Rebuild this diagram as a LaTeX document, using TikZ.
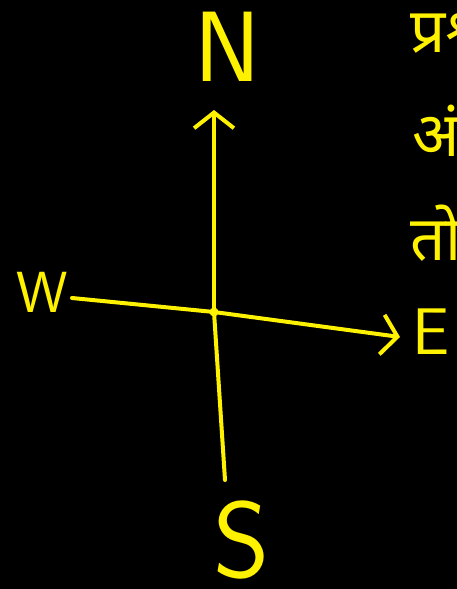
\documentclass[tikz,border=0pt]{standalone}
\usepackage{fontspec}
\newfontfamily\devfont[Script=Devanagari]{Noto Sans}
\usetikzlibrary{arrows.meta,positioning}
\tikzset{
  dir/axis/.style={line width=4pt, yellow, line cap=round, line join=round},
  dir/tip/.style={-{Straight Barb[length=5.5mm,width=14mm,line width=4pt]}},
  dir/letter/.style={text=yellow, font=\sffamily, inner sep=0pt},
  dir/hindi/.style={text=yellow, font=\devfont\fontsize{62}{62}\selectfont, anchor=base west, inner sep=0pt}
}

\begin{document}
\begin{tikzpicture}[x=1pt, y=-1pt]
  \fill[black] (0,0) rectangle (457,589);
  \useasboundingbox (0,0) rectangle (457,589);
  \clip (0,0) rectangle (457,589);
  % axes
  \coordinate (o) at (214,312);
  \coordinate (ntip) at (214,110);
  \coordinate (send) at (225,480);
  \coordinate (wend) at (72,298);
  \coordinate (etip) at (400,337);
  \draw[dir/axis, dir/tip] (o) -- (ntip);
  \draw[dir/axis] (o) -- (send);
  \draw[dir/axis] (wend) -- (o);
  \draw[dir/axis, dir/tip] (o) -- (etip);
  \fill[yellow] (o) circle (4.5pt);
  % direction letters
  \node[dir/letter, font=\sffamily\fontsize{100}{100}\selectfont] (north) at (228,47) {N};
  \node[dir/letter, font=\sffamily\fontsize{58}{58}\selectfont] (west) at (42,292) {W};
  \node[dir/letter, font=\sffamily\fontsize{66}{66}\selectfont] (east) at (431,332) {E};
  \node[dir/letter, font=\sffamily\fontsize{108}{108}\selectfont] (south) at (242,540) {S};
  % side note
  \node[dir/hindi] (line1) at (410,52) {प्रश्न};
  \node[dir/hindi] (line2) at (412,156) {अंक};
  \node[dir/hindi] (line3) at (410,260) {तो};
\end{tikzpicture}
\end{document}
